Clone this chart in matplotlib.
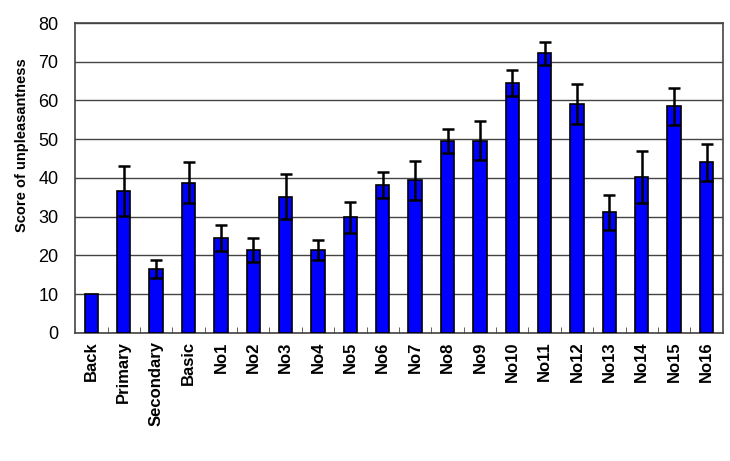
import matplotlib.pyplot as plt
import numpy as np

plt.rcParams['font.family'] = ['Liberation Sans', 'DejaVu Sans']

categories = ['Back', 'Primary', 'Secondary', 'Basic', 'No1', 'No2', 'No3', 'No4',
              'No5', 'No6', 'No7', 'No8', 'No9', 'No10', 'No11', 'No12', 'No13',
              'No14', 'No15', 'No16']
scores = [10.0, 36.6, 16.4, 38.8, 24.5, 21.4, 35.1, 21.4, 29.8, 38.2,
          39.4, 49.6, 49.6, 64.5, 72.2, 59.1, 31.1, 40.2, 58.5, 44.0]
errors = [0, 6.5, 2.3, 5.2, 3.3, 3.1, 5.8, 2.5, 3.9, 3.3,
          5.1, 3.1, 5.0, 3.3, 3.0, 5.1, 4.5, 6.7, 4.8, 4.8]

fig = plt.figure(figsize=(7.3, 4.61), dpi=100)
ax = fig.add_axes([0.103, 0.278, 0.887, 0.672])

x = np.arange(len(categories))
ax.bar(x, scores, width=0.41, color='#0000ff', edgecolor='black', linewidth=1.2, zorder=3)
err_x = [i for i in x if errors[i] > 0]
ax.errorbar(err_x, [scores[i] for i in err_x], yerr=[errors[i] for i in err_x],
            fmt='none', ecolor='black', elinewidth=1.8, capsize=4.5, capthick=1.8, zorder=4)

ax.set_xlim(-0.5, len(categories) - 0.5)
ax.set_ylim(0, 80)
ax.set_yticks(range(0, 81, 10))
ax.yaxis.grid(True, color='#444444', linewidth=1.0, zorder=0)
ax.set_axisbelow(True)

ax.set_xticks(x)
ax.set_xticklabels(categories, rotation=90, fontsize=12, fontweight='bold')
ax.tick_params(axis='x', which='major', length=0, pad=6)
ax.set_xticks(np.arange(0.5, len(categories) - 0.5), minor=True)
ax.tick_params(axis='x', which='minor', direction='in', length=4, color='#444444')
ax.tick_params(axis='y', length=0, pad=12, labelsize=13)

ax.set_ylabel('Score of unpleasantness', fontsize=10.5, fontweight='bold')
ax.yaxis.set_label_coords(-0.072, 0.606)
for s in ax.spines.values():
    s.set_color('#444444')
    s.set_linewidth(1.2)

fig.savefig('out.png', dpi=100)
